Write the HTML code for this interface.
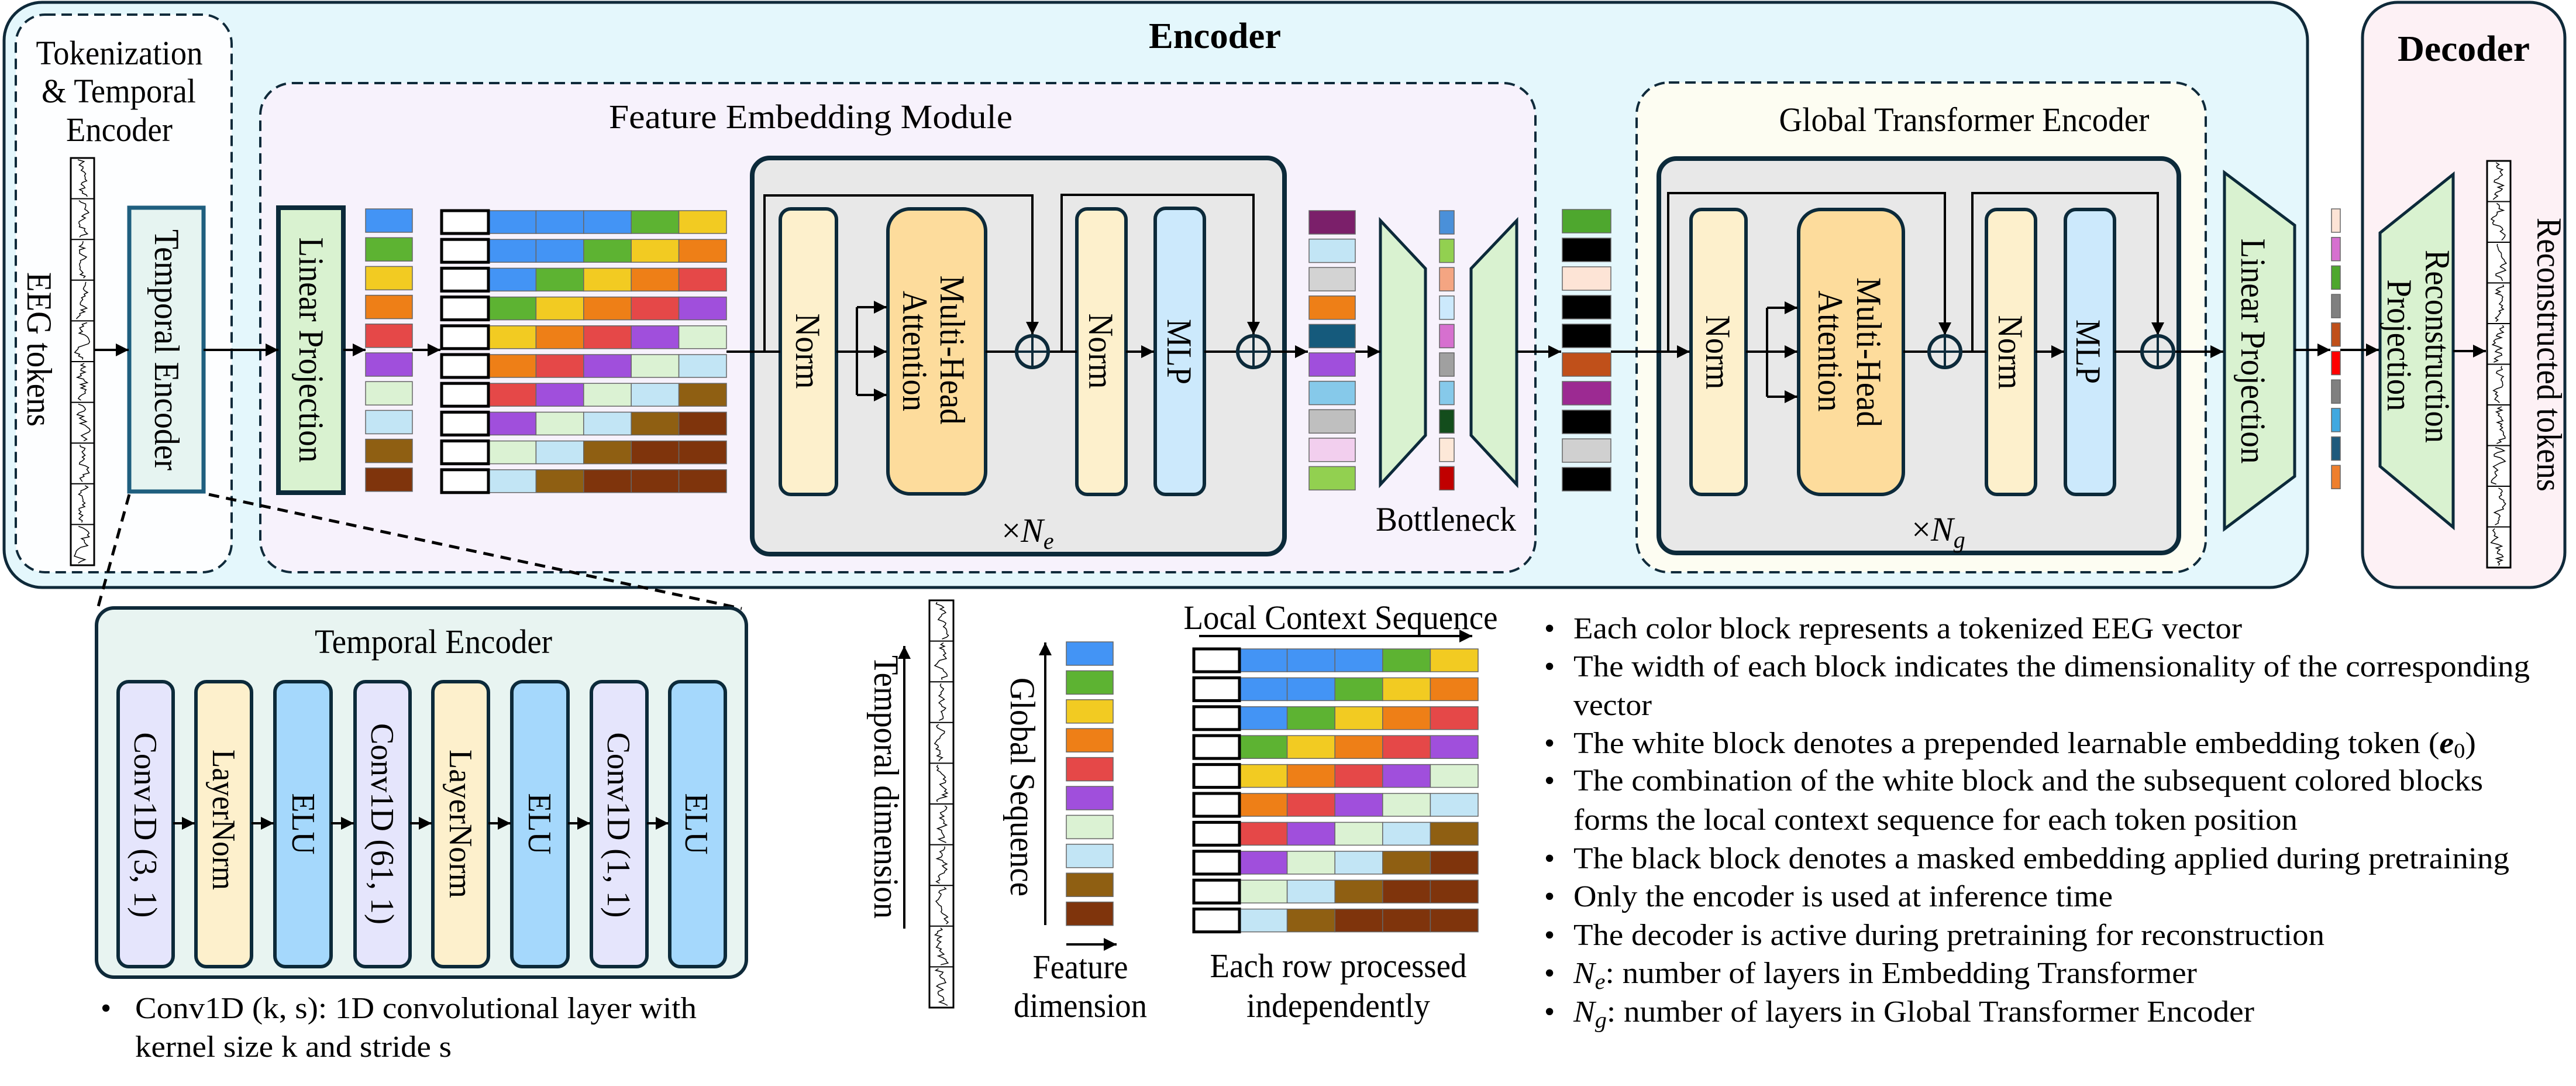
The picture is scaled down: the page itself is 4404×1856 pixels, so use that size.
<!DOCTYPE html>
<html><head><meta charset="utf-8"><style>
html,body{margin:0;padding:0;background:#fff;}
svg{display:block;}
text{font-family:"Liberation Serif",serif;fill:#000;}
</style></head><body>
<svg id="svg" width="4404" height="1856" viewBox="0 0 4404 1856" xmlns="http://www.w3.org/2000/svg">
<defs>
<marker id="a" viewBox="0 0 10 10" refX="10" refY="5" orient="auto" markerUnits="userSpaceOnUse" markerWidth="22" markerHeight="22"><path d="M0,0 L10,5 L0,10 z" fill="#000"/></marker>
</defs>
<rect x="7" y="4" width="3938" height="1000" rx="65" fill="#e4f7fc" stroke="#0f2a3a" stroke-width="5"/>
<rect x="4039" y="4" width="346" height="1000" rx="60" fill="#fdf1f5" stroke="#0f2a3a" stroke-width="5"/>
<rect x="27" y="25" width="369" height="953" rx="50" fill="#fdfeff" stroke="#0f2a3a" stroke-width="4" stroke-dasharray="18 10"/>
<rect x="445" y="142" width="2180" height="836" rx="55" fill="#f7f2fc" stroke="#0f2a3a" stroke-width="4" stroke-dasharray="18 10"/>
<rect x="2798" y="141" width="973" height="837" rx="55" fill="#fdfdf2" stroke="#0f2a3a" stroke-width="4" stroke-dasharray="18 10"/>
<rect x="1286" y="270" width="910" height="677" rx="30" fill="#e8e8e8" stroke="#0c2a3a" stroke-width="8"/>
<rect x="2836" y="271" width="889" height="674" rx="30" fill="#e8e8e8" stroke="#0c2a3a" stroke-width="8"/>
<rect x="221" y="355" width="127" height="485" fill="#e6f4f1" stroke="#1f5f7f" stroke-width="7"/>
<rect x="476" y="355" width="111" height="487" fill="#d9f2d0" stroke="#0c2a3a" stroke-width="8"/>
<rect x="1334" y="357" width="96" height="488" rx="18" fill="#fdf0cc" stroke="#0c2a3a" stroke-width="6"/>
<rect x="1518" y="357" width="167" height="487" rx="38" fill="#fddc9c" stroke="#0c2a3a" stroke-width="6"/>
<rect x="1841" y="357" width="84" height="488" rx="18" fill="#fdf0cc" stroke="#0c2a3a" stroke-width="6"/>
<rect x="1975" y="356" width="84" height="489" rx="18" fill="#cce9fc" stroke="#0c2a3a" stroke-width="6"/>
<rect x="2891" y="358" width="94" height="487" rx="18" fill="#fdf0cc" stroke="#0c2a3a" stroke-width="6"/>
<rect x="3075" y="358" width="179" height="487" rx="38" fill="#fddc9c" stroke="#0c2a3a" stroke-width="6"/>
<rect x="3396" y="358" width="84" height="487" rx="18" fill="#fdf0cc" stroke="#0c2a3a" stroke-width="6"/>
<rect x="3531" y="358" width="84" height="487" rx="18" fill="#cce9fc" stroke="#0c2a3a" stroke-width="6"/>
<polygon points="2360,377 2437,459 2437,744 2360,828" fill="#d9f2d0" stroke="#0c2a3a" stroke-width="5"/>
<polygon points="2515,459 2593,377 2593,828 2515,744" fill="#d9f2d0" stroke="#0c2a3a" stroke-width="5"/>
<polygon points="3803,295 3923,385 3923,814 3803,904" fill="#d9f2d0" stroke="#0c2a3a" stroke-width="5"/>
<polygon points="4069,398 4194,298 4194,901 4069,797" fill="#d9f2d0" stroke="#0c2a3a" stroke-width="5"/>

<g stroke="#000" stroke-width="4" fill="none">
<line x1="161" y1="598" x2="220" y2="598" marker-end="url(#a)"/>
<line x1="348" y1="598" x2="476" y2="598" marker-end="url(#a)"/>
<line x1="587" y1="598" x2="625" y2="598" marker-end="url(#a)"/>
<line x1="705" y1="598" x2="753" y2="598" marker-end="url(#a)"/>
<line x1="1242" y1="601" x2="1334" y2="601"/>
<polyline points="1307,601 1307,334 1765,334 1765,572" marker-end="url(#a)"/>
<line x1="1430" y1="601" x2="1465" y2="601"/>
<line x1="1465" y1="525" x2="1465" y2="675"/>
<line x1="1465" y1="525" x2="1516" y2="525" marker-end="url(#a)"/>
<line x1="1465" y1="601" x2="1516" y2="601" marker-end="url(#a)"/>
<line x1="1465" y1="675" x2="1516" y2="675" marker-end="url(#a)"/>
<line x1="1685" y1="601" x2="1738" y2="601"/>
<line x1="1792" y1="601" x2="1841" y2="601"/>
<polyline points="1815,601 1815,333 2143,333 2143,572" marker-end="url(#a)"/>
<line x1="1925" y1="601" x2="1973" y2="601" marker-end="url(#a)"/>
<line x1="2059" y1="601" x2="2116" y2="601"/>
<line x1="2170" y1="601" x2="2236" y2="601" marker-end="url(#a)"/>
<line x1="2317" y1="601" x2="2360" y2="601" marker-end="url(#a)"/>
<line x1="2593" y1="601" x2="2669" y2="601" marker-end="url(#a)"/>
<line x1="2754" y1="601" x2="2889" y2="601" marker-end="url(#a)"/>
<polyline points="2852,601 2852,330 3325,330 3325,573" marker-end="url(#a)"/>
<line x1="2985" y1="601" x2="3021" y2="601"/>
<line x1="3021" y1="526" x2="3021" y2="678"/>
<line x1="3021" y1="526" x2="3073" y2="526" marker-end="url(#a)"/>
<line x1="3021" y1="601" x2="3073" y2="601" marker-end="url(#a)"/>
<line x1="3021" y1="678" x2="3073" y2="678" marker-end="url(#a)"/>
<line x1="3254" y1="601" x2="3298" y2="601"/>
<line x1="3352" y1="601" x2="3396" y2="601"/>
<polyline points="3372,601 3372,330 3689,330 3689,573" marker-end="url(#a)"/>
<line x1="3480" y1="601" x2="3529" y2="601" marker-end="url(#a)"/>
<line x1="3615" y1="601" x2="3662" y2="601"/>
<line x1="3716" y1="601" x2="3801" y2="601" marker-end="url(#a)"/>
<line x1="3923" y1="598" x2="3984" y2="598" marker-end="url(#a)"/>
<line x1="4001" y1="598" x2="4067" y2="598" marker-end="url(#a)"/>
<line x1="4194" y1="600" x2="4250" y2="600" marker-end="url(#a)"/>
<line x1="1546" y1="1587" x2="1546" y2="1104" marker-end="url(#a)"/>
<line x1="1787" y1="1581" x2="1787" y2="1098" marker-end="url(#a)"/>
<line x1="1823" y1="1614" x2="1909" y2="1614" marker-end="url(#a)"/>
<line x1="2050" y1="1087" x2="2517" y2="1087" marker-end="url(#a)"/>
</g>
<g stroke="#0c2a3a" stroke-width="6" fill="none">
<circle cx="1765" cy="601" r="27"/><line x1="1765" y1="574" x2="1765" y2="628" stroke-width="4"/><line x1="1738" y1="601" x2="1792" y2="601" stroke-width="4"/>
<circle cx="2143" cy="601" r="27"/><line x1="2143" y1="574" x2="2143" y2="628" stroke-width="4"/><line x1="2116" y1="601" x2="2170" y2="601" stroke-width="4"/>
<circle cx="3325" cy="601" r="27"/><line x1="3325" y1="574" x2="3325" y2="628" stroke-width="4"/><line x1="3298" y1="601" x2="3352" y2="601" stroke-width="4"/>
<circle cx="3689" cy="601" r="27"/><line x1="3689" y1="574" x2="3689" y2="628" stroke-width="4"/><line x1="3662" y1="601" x2="3716" y2="601" stroke-width="4"/>
</g>

<g stroke="#000" stroke-width="5" stroke-dasharray="18 12" fill="none">
<line x1="221" y1="845" x2="167" y2="1040"/>
<line x1="357" y1="845" x2="1268" y2="1040"/>
</g>
<rect x="165" y="1039" width="1111" height="631" rx="30" fill="#e8f4f1" stroke="#0f2a3a" stroke-width="6"/>
<g stroke="#0c2a3a" stroke-width="6">
<rect x="202" y="1165" width="94" height="487" rx="18" fill="#e5e5fc"/>
<rect x="335" y="1165" width="95" height="487" rx="18" fill="#fdf0cc"/>
<rect x="470" y="1165" width="96" height="487" rx="18" fill="#a5d8fc"/>
<rect x="607" y="1165" width="94" height="487" rx="18" fill="#e5e5fc"/>
<rect x="740" y="1165" width="95" height="487" rx="18" fill="#fdf0cc"/>
<rect x="875" y="1165" width="96" height="487" rx="18" fill="#a5d8fc"/>
<rect x="1011" y="1165" width="95" height="487" rx="18" fill="#e5e5fc"/>
<rect x="1145" y="1165" width="95" height="487" rx="18" fill="#a5d8fc"/>
</g>
<g stroke="#000" stroke-width="4">
<line x1="296" y1="1407" x2="333" y2="1407" marker-end="url(#a)"/>
<line x1="430" y1="1407" x2="468" y2="1407" marker-end="url(#a)"/>
<line x1="566" y1="1407" x2="605" y2="1407" marker-end="url(#a)"/>
<line x1="701" y1="1407" x2="738" y2="1407" marker-end="url(#a)"/>
<line x1="835" y1="1407" x2="873" y2="1407" marker-end="url(#a)"/>
<line x1="971" y1="1407" x2="1009" y2="1407" marker-end="url(#a)"/>
<line x1="1106" y1="1407" x2="1143" y2="1407" marker-end="url(#a)"/>
</g>

<g id="dyn"></g>

<text x="2077" y="82" font-size="62" font-weight="bold" text-anchor="middle" textLength="226" lengthAdjust="spacingAndGlyphs">Encoder</text>
<text x="4212" y="104" font-size="62" font-weight="bold" text-anchor="middle" textLength="226" lengthAdjust="spacingAndGlyphs">Decoder</text>
<g font-size="58" text-anchor="middle">
<text x="204" y="110" textLength="285" lengthAdjust="spacingAndGlyphs">Tokenization</text>
<text x="203" y="175" textLength="264" lengthAdjust="spacingAndGlyphs">&amp; Temporal</text>
<text x="204" y="241" textLength="182" lengthAdjust="spacingAndGlyphs">Encoder</text>
<text x="1386" y="219" textLength="690" lengthAdjust="spacingAndGlyphs">Feature Embedding Module</text>
<text x="3358" y="224" textLength="633" lengthAdjust="spacingAndGlyphs">Global Transformer Encoder</text>
<text x="2472" y="907" textLength="240" lengthAdjust="spacingAndGlyphs">Bottleneck</text>
<text x="741" y="1116" textLength="406" lengthAdjust="spacingAndGlyphs">Temporal Encoder</text>
<text x="2292" y="1075" textLength="537" lengthAdjust="spacingAndGlyphs">Local Context Sequence</text>
<text x="2288" y="1670" textLength="439" lengthAdjust="spacingAndGlyphs">Each row processed</text>
<text x="2288" y="1738" textLength="314" lengthAdjust="spacingAndGlyphs">independently</text>
<text x="1847" y="1672" textLength="163" lengthAdjust="spacingAndGlyphs">Feature</text>
<text x="1847" y="1738" textLength="228" lengthAdjust="spacingAndGlyphs">dimension</text>
</g>
<text x="1757" y="926" font-size="58" text-anchor="middle">×<tspan font-style="italic">N</tspan><tspan font-style="italic" font-size="40" dy="12">e</tspan></text>
<text x="3314" y="924" font-size="58" text-anchor="middle">×<tspan font-style="italic">N</tspan><tspan font-style="italic" font-size="40" dy="12">g</tspan></text>

<g font-size="60" text-anchor="middle" dominant-baseline="central">
<text transform="translate(67,597) rotate(90)" textLength="264" lengthAdjust="spacingAndGlyphs">EEG tokens</text>
<text transform="translate(285,598) rotate(90)" textLength="412" lengthAdjust="spacingAndGlyphs">Temporal Encoder</text>
<text transform="translate(532,598) rotate(90)" textLength="385" lengthAdjust="spacingAndGlyphs">Linear Projection</text>
<text transform="translate(1381,600) rotate(90)" textLength="129" lengthAdjust="spacingAndGlyphs">Norm</text>
<text transform="translate(1628,598) rotate(90)" textLength="255" lengthAdjust="spacingAndGlyphs">Multi-Head</text>
<text transform="translate(1564,600) rotate(90)" textLength="206" lengthAdjust="spacingAndGlyphs">Attention</text>
<text transform="translate(1882,600) rotate(90)" textLength="129" lengthAdjust="spacingAndGlyphs">Norm</text>
<text transform="translate(2016,601) rotate(90)" textLength="112" lengthAdjust="spacingAndGlyphs">MLP</text>
<text transform="translate(2937,602) rotate(90)" textLength="127" lengthAdjust="spacingAndGlyphs">Norm</text>
<text transform="translate(3195,602) rotate(90)" textLength="256" lengthAdjust="spacingAndGlyphs">Multi-Head</text>
<text transform="translate(3129,600) rotate(90)" textLength="207" lengthAdjust="spacingAndGlyphs">Attention</text>
<text transform="translate(3437,602) rotate(90)" textLength="127" lengthAdjust="spacingAndGlyphs">Norm</text>
<text transform="translate(3570,601) rotate(90)" textLength="110" lengthAdjust="spacingAndGlyphs">MLP</text>
<text transform="translate(3852,600) rotate(90)" textLength="385" lengthAdjust="spacingAndGlyphs">Linear Projection</text>
<text transform="translate(4167,592) rotate(90)" textLength="330" lengthAdjust="spacingAndGlyphs">Reconstruction</text>
<text transform="translate(4102,590) rotate(90)" textLength="225" lengthAdjust="spacingAndGlyphs">Projection</text>
<text transform="translate(4358,606) rotate(90)" textLength="468" lengthAdjust="spacingAndGlyphs">Reconstructed tokens</text>
<text transform="translate(1515,1345) rotate(90)" textLength="450" lengthAdjust="spacingAndGlyphs">Temporal dimension</text>
<text transform="translate(1748,1345) rotate(90)" textLength="374" lengthAdjust="spacingAndGlyphs">Global Sequence</text>
</g>
<g font-size="56" text-anchor="middle" dominant-baseline="central">
<text transform="translate(248,1410) rotate(90)" textLength="317" lengthAdjust="spacingAndGlyphs">Conv1D (3, 1)</text>
<text transform="translate(382,1401) rotate(90)" textLength="240" lengthAdjust="spacingAndGlyphs">LayerNorm</text>
<text transform="translate(518,1408) rotate(90)" textLength="105" lengthAdjust="spacingAndGlyphs">ELU</text>
<text transform="translate(653,1408) rotate(90)" textLength="344" lengthAdjust="spacingAndGlyphs">Conv1D (61, 1)</text>
<text transform="translate(787,1408) rotate(90)" textLength="254" lengthAdjust="spacingAndGlyphs">LayerNorm</text>
<text transform="translate(922,1408) rotate(90)" textLength="105" lengthAdjust="spacingAndGlyphs">ELU</text>
<text transform="translate(1057,1410) rotate(90)" textLength="317" lengthAdjust="spacingAndGlyphs">Conv1D (1, 1)</text>
<text transform="translate(1190,1408) rotate(90)" textLength="105" lengthAdjust="spacingAndGlyphs">ELU</text>
</g>

<g font-size="52">
<text x="172" y="1740">•</text>
<text x="231" y="1740" textLength="960" lengthAdjust="spacingAndGlyphs">Conv1D (k, s): 1D convolutional layer with</text>
<text x="231" y="1806" textLength="541" lengthAdjust="spacingAndGlyphs">kernel size k and stride s</text>
<text x="2640" y="1091">•</text><text x="2690" y="1091" textLength="1143" lengthAdjust="spacingAndGlyphs">Each color block represents a tokenized EEG vector</text>
<text x="2640" y="1156">•</text><text x="2690" y="1156" textLength="1635" lengthAdjust="spacingAndGlyphs">The width of each block indicates the dimensionality of the corresponding</text>
<text x="2690" y="1222" textLength="134" lengthAdjust="spacingAndGlyphs">vector</text>
<text x="2640" y="1287">•</text><text x="2690" y="1287" textLength="1543" lengthAdjust="spacingAndGlyphs">The white block denotes a prepended learnable embedding token (<tspan font-weight="bold" font-style="italic">e</tspan><tspan font-size="36" dy="8">0</tspan><tspan dy="-8">)</tspan></text>
<text x="2640" y="1351">•</text><text x="2690" y="1351" textLength="1555" lengthAdjust="spacingAndGlyphs">The combination of the white block and the subsequent colored blocks</text>
<text x="2690" y="1418" textLength="1238" lengthAdjust="spacingAndGlyphs">forms the local context sequence for each token position</text>
<text x="2640" y="1484">•</text><text x="2690" y="1484" textLength="1600" lengthAdjust="spacingAndGlyphs">The black block denotes a masked embedding applied during pretraining</text>
<text x="2640" y="1549">•</text><text x="2690" y="1549" textLength="922" lengthAdjust="spacingAndGlyphs">Only the encoder is used at inference time</text>
<text x="2640" y="1615">•</text><text x="2690" y="1615" textLength="1284" lengthAdjust="spacingAndGlyphs">The decoder is active during pretraining for reconstruction</text>
<text x="2640" y="1680">•</text><text x="2690" y="1680" textLength="1066" lengthAdjust="spacingAndGlyphs"><tspan font-style="italic">N</tspan><tspan font-style="italic" font-size="38" dy="10">e</tspan><tspan dy="-10">: number of layers in Embedding Transformer</tspan></text>
<text x="2640" y="1746">•</text><text x="2690" y="1746" textLength="1164" lengthAdjust="spacingAndGlyphs"><tspan font-style="italic">N</tspan><tspan font-style="italic" font-size="38" dy="10">g</tspan><tspan dy="-10">: number of layers in Global Transformer Encoder</tspan></text>
</g>
</svg>
<script>
(function(){
var NS="http://www.w3.org/2000/svg",g=document.getElementById('dyn');
function el(t,a){var e=document.createElementNS(NS,t);for(var k in a)e.setAttribute(k,a[k]);g.appendChild(e);return e;}
function R(x,y,w,h,f,s,sw){el('rect',{x:x,y:y,width:w,height:h,fill:f,stroke:s||'#666',"stroke-width":sw||1.5});}
var B='#4394f5',G='#5db332',Y='#f2cb22',O='#ee7f17',Rd='#e54848',P='#a04fdc',LG='#dbf2d3',LB='#c2e5f5',Br='#8f5f12',D='#7f340c';
var col1=[B,G,Y,O,Rd,P,LG,LB,Br,D];
var seq=[B,B,B,G,Y,O,Rd,P,LG,LB,Br,D,D,D];
var i,k;
for(i=0;i<10;i++){R(625,357+i*49.2,80,40,col1[i]);}
for(i=0;i<10;i++){var y=360+i*49.2;for(k=0;k<5;k++)R(835+k*81.4,y,81.4,39,seq[i+k]);R(755,y,80,39,'#fff','#000',5);}
var c2=['#7b1f6a','#c2e5f5','#d3d3d3','#ee7f17','#155a7c','#a04fdc','#86c9ea','#bfbfbf','#f2cfee','#92d050'];
for(i=0;i<10;i++)R(2238,360+i*48.6,79,40,c2[i]);
var c3=['#4a90d9','#92d050','#f4a582','#cce9fc','#d670cf','#a0a0a0','#86c9ea','#134d1c','#fde8d8','#c00000'];
for(i=0;i<10;i++)R(2461,360+i*48.6,25,40,c3[i]);
var c4=['#4ea72e','#000','#fde4d6','#000','#000','#c0501a','#9c2a92','#000','#d0d0d0','#000'];
for(i=0;i<10;i++)R(2671,358+i*49,83,40,c4[i]);
var c5=['#fde4d6','#d670cf','#4ea72e','#808080','#c0501a','#ff0000','#808080','#40a8e0','#1f5a7c','#ee7f2d'];
for(i=0;i<10;i++)R(3986,357+i*48.7,15,40,c5[i]);
for(i=0;i<10;i++)R(1823,1097+i*49.4,80,40,col1[i]);
for(i=0;i<10;i++){var y2=1109+i*49.4;for(k=0;k<5;k++)R(2119+k*81.6,y2,81.6,39,seq[i+k]);R(2041,y2,78,39,'#fff','#000',5);}
var seed=7;function rnd(){seed=(seed*16807)%2147483647;return seed/2147483647;}
function strip(x,y,w,h){el('rect',{x:x,y:y,width:w,height:h,fill:'#fff',stroke:'#000','stroke-width':3});
 var sh=h/10;for(var s=0;s<10;s++){var y0=y+s*sh;if(s>0)el('line',{x1:x,y1:y0,x2:x+w,y2:y0,stroke:'#000','stroke-width':2});
  var pts=[],cx=x+w/2,v=0;for(var t=3;t<sh-2;t+=3){v=v*0.5+(rnd()-0.5)*16;var px=Math.max(x+4,Math.min(x+w-4,cx+v));pts.push(px.toFixed(1)+','+(y0+t).toFixed(1));}
  el('polyline',{points:pts.join(' '),fill:'none',stroke:'#000','stroke-width':1.5});}}
strip(121,270,40,696);strip(4252,275,40,695);strip(1589,1026,41,696);
})();
</script>
</body></html>
